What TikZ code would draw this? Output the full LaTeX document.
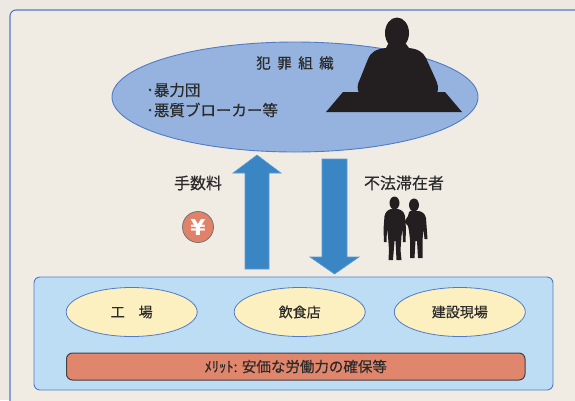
\documentclass[tikz,border=0pt]{standalone}
\usepackage{fontspec}
\setmainfont{Noto Sans CJK JP}[FakeBold=0.45]
\newfontfamily\yenfont{DejaVu Sans}
\usetikzlibrary{shapes.geometric}

\definecolor{bgout}{HTML}{EEE8E3}
\definecolor{bgin}{HTML}{F1ECE3}
\definecolor{framec}{HTML}{4F7BC8}
\definecolor{orgfill}{HTML}{95B3DE}
\definecolor{arrowc}{HTML}{3A86C4}
\definecolor{arrowedge}{HTML}{5A9AD6}
\definecolor{panelfill}{HTML}{BDDDF4}
\definecolor{placefill}{HTML}{FDF0C0}
\definecolor{meritfill}{HTML}{E0866C}
\definecolor{yenfill}{HTML}{E0826A}
\definecolor{inkc}{HTML}{231F20}
\definecolor{textc}{HTML}{2B2B2B}

\tikzset{
  orgellipse/.style={ellipse, draw=framec, fill=orgfill, line width=0.9pt, inner sep=0pt},
  placeellipse/.style={ellipse, draw=framec, fill=placefill, line width=0.8pt, inner sep=0pt,
    minimum width=131pt, minimum height=49pt, text=textc, font=\fontsize{14}{16}\selectfont},
  panelbox/.style={draw=framec, fill=panelfill, line width=0.9pt, rounded corners=6pt, inner sep=0pt},
  meritbox/.style={draw=inkc!85, fill=meritfill, line width=1pt, rounded corners=6pt, inner sep=0pt,
    text=textc, font=\fontsize{14.5}{16}\selectfont},
  label/.style={text=textc, inner sep=0pt, font=\fontsize{16}{18}\selectfont},
  blockarrow/.style={fill=arrowc, draw=arrowedge, line width=0.6pt, line join=miter},
  silhouette/.style={fill=inkc},
}

\begin{document}
\begin{tikzpicture}[x=1pt, y=-1pt]
  \useasboundingbox (0,0) rectangle (575,400);
  \fill[bgout] (0,0) rectangle (575,400);

  % outer frame, running off the right and bottom edges
  \begin{scope}
    \clip (0,0) rectangle (575,400);
    \filldraw[fill=bgin, draw=framec, line width=1.1pt, rounded corners=6pt]
      (10,420) -- (10,10) -- (600,10) -- (600,420) -- cycle;
  \end{scope}

  % criminal organisation
  \node[orgellipse, minimum width=366pt, minimum height=110pt] (org) at (295,97) {};
  \node[text=textc, inner sep=0pt, font=\fontsize{14.5}{16}\selectfont] (orgtitle) at (295,63)
    {犯\hspace{6.5pt}罪\hspace{6.5pt}組\hspace{6.5pt}織};
  \node[anchor=west, text=textc, inner sep=0pt, font=\fontsize{15.5}{18}\selectfont] (gang) at (146,90) {･暴力団};
  \node[anchor=west, text=textc, inner sep=0pt, font=\fontsize{15.5}{18}\selectfont] (broker) at (146,110) {･悪質ブローカー等};

  % seated boss behind a desk
  \fill[silhouette] (397,33) ellipse [x radius=12pt, y radius=15.5pt];
  \fill[silhouette] (388,44) -- (386,48) .. controls (376,49) and (371,52) .. (368,59)
    -- (360,79) .. controls (357,85) and (357,89) .. (359,93) -- (437,93)
    .. controls (439,89) and (438,84) .. (435,78) -- (426,58)
    .. controls (423,52) and (418,49) .. (409,48) -- (406,44) -- cycle;
  \fill[silhouette] (343,92) -- (445,92) -- (462,112) -- (326,112) -- cycle;

  % flows
  \filldraw[blockarrow] (245,269) -- (245,173) -- (233,173) -- (257,155) -- (281,173)
    -- (269,173) -- (269,269) -- cycle;
  \filldraw[blockarrow] (322,159) -- (347,159) -- (347,257) -- (359,257) -- (334.5,274)
    -- (310,257) -- (322,257) -- cycle;

  \node[label] (fee) at (198,183) {手数料};
  \node[label] (illegal) at (404,183) {不法滞在者};

  \node[circle, fill=yenfill, draw=black!55, line width=0.8pt, minimum size=31pt, inner sep=0pt,
    text=white, font=\yenfont\bfseries\fontsize{22}{22}\selectfont] (yen) at (198,227) {¥};

  % two standing workers
  \fill[silhouette] (394.5,203) ellipse [x radius=5pt, y radius=6.5pt];
  \fill[silhouette] (391,209) -- (398,209) .. controls (402,210) and (404,212) .. (405,216)
    -- (406,229) -- (405.5,242) -- (403,242) -- (402.5,229) -- (401.5,236) -- (400.5,250)
    -- (401.5,260) -- (396.5,260) -- (395.5,241) -- (394.5,241) -- (393,260) -- (388.5,260)
    -- (389,250) -- (388,236) -- (387,229) -- (386.5,242) -- (384,242) -- (383.5,229)
    -- (384.5,216) .. controls (385.5,212) and (387.5,210) .. (391,209) -- cycle;
  \fill[silhouette] (414,205) ellipse [x radius=5pt, y radius=6.5pt];
  \fill[silhouette] (410,211) -- (419,211) .. controls (423,212) and (425,214) .. (426,218)
    -- (427.5,239) -- (424.5,239) -- (423.5,229) -- (422.5,240) -- (422.5,258) -- (418,258)
    -- (417,241) -- (415.5,241) -- (414.5,258) -- (410,258) -- (410,240) -- (409,231)
    -- (408,226) -- (404.5,222) -- (406,219) -- (408,216) .. controls (408.5,213) and (409,212) .. (410,211) -- cycle;

  % workplaces
  \node[panelbox, minimum width=519pt, minimum height=113pt] (panel) at (293.5,333.5) {};
  \node[placeellipse] (factory) at (131.7,312) {工　場};
  \node[placeellipse] (restaurant) at (299.7,312) {飲食店};
  \node[placeellipse] (site) at (459.8,312) {建設現場};
  \node[meritbox, minimum width=458.5pt, minimum height=27pt] (merit) at (295.75,366.5)
    {ﾒﾘｯﾄ: 安価な労働力の確保等};
\end{tikzpicture}
\end{document}
